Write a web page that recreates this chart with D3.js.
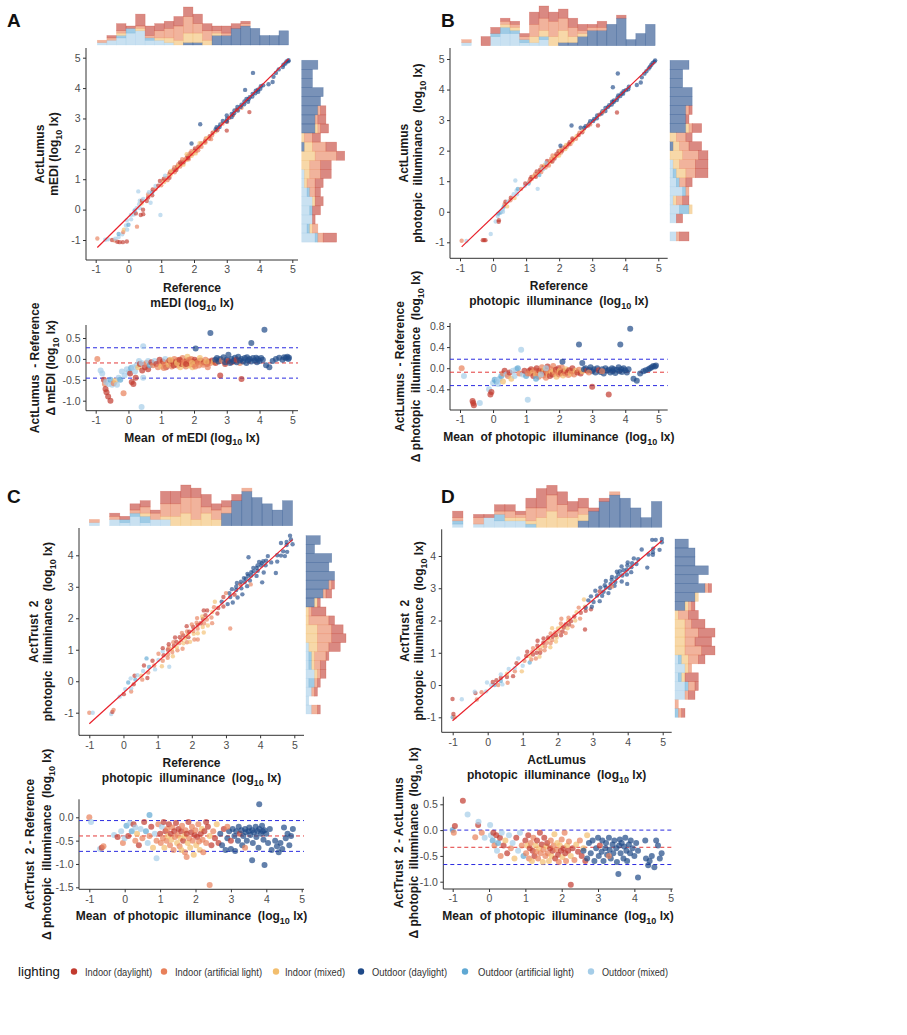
<!DOCTYPE html>
<html><head><meta charset="utf-8">
<script src="https://cdn.jsdelivr.net/npm/d3@7"></script>
<style>body{margin:0;background:#fff} svg{font-family:Arial,"Liberation Sans",sans-serif} text{white-space:pre}</style>
</head><body><svg id="c" width="907" height="1035"></svg>
<script>
const categories = ["Indoor (daylight)","Indoor (artificial light)","Indoor (mixed)","Outdoor (daylight)","Outdoor (artificial light)","Outdoor (mixed)"];
const colors = ["#C23B2F","#E8805A","#F2BE6E","#1F4A88","#5FA8D3","#A5CDE8"];
const legendTitle = "lighting";

// points: [mean of methods, difference (method - reference), category index]
const pointsA = [
[-0.95,0.0,1],[-0.85,-0.28,5],[-0.8,-0.35,5],[-0.75,-0.5,0],[-0.72,-0.6,1],[-0.7,-0.72,0],[-0.67,-0.8,0],[-0.62,-0.9,0],[-0.55,-1.0,0],[-0.68,-0.55,5],[-0.6,-0.6,5],[-0.55,-0.5,4],[-0.5,-0.62,5],[-0.45,-0.58,1],[-0.4,-0.52,2],[-0.35,-0.62,5],[-0.3,-0.45,5],[-0.25,-0.5,4],[-0.2,-0.3,5],[-0.15,-0.82,1],[-0.12,-0.4,5],[-0.05,-0.25,5],[0.0,-0.32,5],[0.05,-0.35,0],[0.08,-0.22,4],[0.1,-0.55,0],[0.15,-0.6,0],[0.15,-0.2,5],[0.2,-0.3,5],[0.22,-0.45,0],[0.25,-0.15,5],[0.3,-0.2,2],[0.32,-0.05,5],[0.35,-0.12,0],[0.4,-0.1,5],[0.42,-0.28,0],[0.45,0.3,5],[0.45,-0.45,5],[0.4,-1.15,5],[0.5,-0.2,0],[0.55,-0.1,1],[0.6,-0.25,0],[0.6,-0.05,5],[0.65,-0.15,4],
[0.7,-0.08,0],[0.75,-0.15,1],[0.8,-0.05,5],[0.85,-0.12,0],[0.9,-0.2,1],[0.95,-0.02,0],[1.0,-0.1,1],[1.0,-0.18,2],[1.05,-0.06,0],[1.1,-0.12,1],[1.12,0.0,5],[1.15,-0.2,0],[1.2,-0.08,1],[1.22,-0.14,2],[1.25,-0.04,0],[1.3,-0.1,1],[1.32,-0.18,1],[1.35,-0.06,0],[1.4,0.0,1],[1.42,-0.12,2],[1.45,-0.08,0],[1.5,-0.16,1],[1.5,-0.03,1],[1.55,-0.1,0],[1.58,-0.2,2],[1.6,-0.05,1],[1.62,-0.12,0],[1.65,0.02,1],[1.7,-0.14,2],[1.72,-0.08,1],[1.75,-0.18,1],[1.78,-0.04,0],[1.8,0.05,2],[1.82,-0.1,1],[1.85,-0.16,2],[1.88,-0.06,0],[1.9,-0.12,1],[1.92,0.0,1],[1.95,-0.2,2],[1.98,-0.08,0],[2.0,-0.14,1],[2.02,-0.02,0],[2.05,0.25,3],[2.08,-0.1,2],[2.1,-0.06,0],[2.15,-0.16,1],[2.2,-0.04,0],[2.25,-0.1,2],[2.3,-0.08,0],[2.35,-0.02,1],[2.4,-0.12,0],[2.45,-0.06,0],[2.5,0.62,3],[2.5,-0.1,1],[2.55,-0.04,0],[2.6,-0.08,2],
[1.08,-0.22,1],[1.28,-0.02,2],[1.38,-0.16,0],[1.48,-0.1,2],[1.56,-0.02,0],[1.68,-0.08,1],[1.76,-0.12,0],[1.86,-0.02,1],[1.94,-0.1,2],[2.04,-0.18,1],[2.12,-0.08,1],[2.18,0.02,2],[2.28,-0.14,1],[2.38,-0.06,2],[2.42,-0.2,1],[2.66,-0.1,0],[2.7,-0.05,1],[2.95,-0.12,0],[3.15,-0.08,0],[3.4,-0.1,1],
[2.65,-0.02,3],[2.7,0.02,3],[2.75,-0.06,3],[2.8,-0.4,0],[2.8,0.0,3],[2.85,-0.04,1],[2.9,0.04,3],[2.95,-0.08,3],[3.0,-0.02,3],[3.05,0.1,3],[3.05,-0.05,0],[3.1,-0.1,3],[3.15,0.0,3],[3.2,-0.05,3],[3.25,0.03,3],[3.3,-0.08,3],[3.3,-0.02,0],[3.35,0.05,3],[3.4,-0.04,3],[3.45,-0.48,0],[3.45,0.0,3],[3.5,-0.06,3],[3.55,0.02,3],[3.6,-0.1,3],[3.62,0.04,3],[3.65,-0.03,3],[3.7,0.0,3],[3.75,0.38,3],[3.75,-0.06,3],[3.8,0.02,3],[3.85,-0.04,3],[3.9,0.03,3],[3.92,-0.08,3],[3.95,0.0,3],[4.0,-0.05,3],[4.05,0.02,3],[4.1,-0.02,3],[4.15,0.7,3],[4.2,-0.15,3],[4.3,-0.2,3],[4.4,-0.05,3],[4.5,0.0,3],[4.6,0.03,3],[4.7,-0.02,3],[4.75,0.04,3],[4.8,0.02,3],[4.85,0.05,3],[4.88,0.0,3],[4.9,0.03,3]
];
const pointsB = [
[-0.95,0.0,1],[-0.88,-0.15,5],[-0.62,-0.62,0],[-0.6,-0.66,0],[-0.58,-0.7,0],[-0.4,-0.66,5],[-0.12,-0.4,5],[-0.05,-0.45,0],[-0.08,-0.5,0],[0.0,-0.28,5],[0.05,-0.22,4],[0.1,-0.25,4],[0.15,-0.22,5],[0.2,-0.2,5],[0.15,-0.3,5],[0.25,-0.15,4],[0.3,-0.1,1],[0.3,-0.25,2],[0.35,-0.05,0],[0.4,-0.12,5],[0.45,-0.15,1],[0.5,-0.08,0],[0.55,-0.2,2],[0.6,-0.05,5],[0.65,-0.15,5],[0.7,-0.02,5],[0.75,0.0,4],[0.8,-0.1,1],[0.85,0.35,5],[0.9,-0.12,5],[1.0,-0.15,4],[1.05,-0.6,5],[1.1,-0.05,0],
[1.12,-0.1,1],[1.15,-0.02,0],[1.2,-0.08,2],[1.22,-0.15,0],[1.25,-0.04,1],[1.3,-0.12,2],[1.32,0.0,0],[1.35,-0.08,1],[1.38,-0.16,1],[1.4,-0.05,0],[1.45,-0.1,2],[1.48,0.02,1],[1.5,-0.06,0],[1.52,-0.14,1],[1.55,-0.03,2],[1.58,-0.09,0],[1.6,-0.18,1],[1.62,-0.05,1],[1.65,0.03,0],[1.68,-0.11,2],[1.7,-0.07,1],[1.72,-0.15,0],[1.75,-0.02,1],[1.78,-0.08,2],[1.8,-0.12,0],[1.82,0.04,1],[1.85,-0.06,2],[1.88,-0.1,1],[1.9,-0.03,0],[1.92,-0.16,2],[1.95,-0.07,1],[1.98,0.0,0],[2.0,-0.12,1],[2.02,-0.05,2],[2.05,-0.09,0],[2.08,0.02,1],[2.1,0.12,3],[2.12,-0.14,2],[2.15,-0.06,0],[2.18,-0.1,1],[2.2,-0.02,2],[2.25,-0.08,0],[2.28,-0.13,1],[2.3,-0.04,0],[2.35,-0.1,2],[2.38,-0.06,1],[2.4,0.0,0],[2.45,-0.12,1],[2.5,-0.05,2],[2.55,-0.08,0],[2.6,0.45,3],[2.6,-0.03,1],[2.65,-0.1,0],[2.7,0.1,3],[2.7,-0.06,2],[1.3,-0.2,4],[1.45,-0.12,5],[1.6,0.0,5],[0.95,-0.05,0],[1.05,-0.1,1],
[2.75,-0.02,3],[2.8,0.0,3],[2.85,-0.05,0],[2.9,-0.03,3],[2.95,0.02,3],[3.0,-0.35,0],[3.0,-0.06,3],[3.05,-0.02,3],[3.1,-0.08,3],[3.15,0.0,3],[3.2,-0.04,0],[3.25,-0.07,3],[3.3,-0.02,3],[3.35,-0.1,3],[3.4,0.0,3],[3.45,-0.05,3],[3.5,-0.5,0],[3.5,-0.03,3],[3.55,-0.08,3],[3.6,0.0,3],[3.62,-0.06,3],[3.65,-0.02,3],[3.7,-0.09,3],[3.75,-0.03,3],[3.8,0.02,3],[3.82,-0.06,3],[3.85,0.45,3],[3.88,-0.02,3],[3.9,-0.07,3],[3.95,0.0,3],[4.0,-0.04,3],[4.05,-0.08,3],[4.1,-0.02,3],[4.15,0.75,3],[4.25,-0.2,3],[4.35,-0.24,3],[4.45,-0.1,3],[4.55,-0.06,3],[4.62,-0.04,3],[4.7,-0.02,3],[4.75,0.0,3],[4.8,0.02,3],[4.85,0.04,3],[4.9,0.03,3],[4.93,0.05,3],[3.3,-0.06,1],[2.9,-0.08,1]
];
const pointsC = [
[-1.0,0.0,1],[-0.95,-0.1,5],[-0.7,-0.68,5],[-0.65,-0.65,0],[-0.6,-0.62,1],[-0.3,-0.38,5],[-0.2,-0.42,0],[-0.1,-0.3,5],[-0.05,-0.55,1],[0.0,-0.45,5],[0.05,-0.18,4],[0.1,-0.4,0],[0.15,-0.12,5],[0.2,-0.3,4],[0.25,-0.15,0],[0.3,-0.5,1],[0.3,-0.22,5],[0.35,-0.35,2],[0.4,-0.6,0],[0.45,-0.25,5],[0.5,-0.45,1],[0.55,-0.1,0],[0.6,-0.3,4],[0.65,-0.55,5],[0.7,0.05,4],[0.7,-0.4,1],[0.75,-0.2,0],[0.8,-0.65,2],[0.85,-0.35,5],[0.9,-0.88,5],[0.9,-0.5,1],[0.95,-0.15,1],
[1.0,-0.35,0],[1.02,-0.55,1],[1.05,-0.2,5],[1.08,-0.45,1],[1.1,-0.1,0],[1.12,-0.65,2],[1.15,-0.3,0],[1.18,-0.5,1],[1.2,-0.25,1],[1.22,-0.4,2],[1.25,-0.15,0],[1.28,-0.6,1],[1.3,-0.35,0],[1.32,-0.48,2],[1.35,-0.22,1],[1.38,-0.7,1],[1.4,-0.3,0],[1.42,-0.42,1],[1.45,-0.12,0],[1.48,-0.55,2],[1.5,-0.38,1],[1.52,-0.25,0],[1.55,-0.62,1],[1.58,-0.45,2],[1.6,-0.3,0],[1.62,-0.18,1],[1.65,-0.5,0],[1.68,-0.4,2],[1.7,-0.75,1],[1.72,-0.28,1],[1.75,-0.35,0],[1.78,-0.55,2],[1.8,-0.1,0],[1.82,-0.45,1],[1.85,-0.65,2],[1.88,-0.32,0],[1.9,-0.2,1],[1.92,-0.5,1],[1.95,-0.8,2],[1.98,-0.38,0],[2.0,-0.28,1],[2.02,-0.6,2],[2.05,-0.42,0],[2.08,-0.15,1],[2.1,-0.52,1],[2.12,-0.7,2],[2.15,-0.35,0],[2.18,-0.25,2],[2.2,-0.48,1],[2.22,-0.75,1],[2.25,-0.3,0],[2.3,-0.55,1],[2.35,-0.2,0],[2.4,-1.45,1],[2.4,-0.4,2],[2.45,-0.6,0],[2.5,-0.3,1],[2.55,-0.45,0],[2.6,-0.15,2],[2.65,-0.55,0],[1.75,-0.85,1],[1.6,-0.7,2],[2.3,-0.1,0],
[2.7,-0.35,3],[2.75,-0.6,3],[2.8,-0.25,0],[2.85,-0.7,3],[2.9,-0.45,3],[2.95,-0.3,3],[3.0,-0.68,3],[3.0,-0.5,0],[3.05,-0.25,3],[3.1,-0.4,3],[3.12,-0.72,3],[3.15,-0.3,3],[3.2,-0.5,3],[3.22,-0.2,3],[3.25,-0.35,0],[3.3,-0.28,3],[3.32,-0.6,3],[3.35,-0.4,3],[3.4,-0.25,3],[3.42,-0.32,3],[3.45,-0.5,3],[3.5,-0.3,3],[3.52,-0.22,3],[3.55,-0.38,3],[3.6,-0.92,3],[3.6,-0.28,3],[3.62,-0.55,3],[3.65,-0.32,3],[3.7,-0.2,3],[3.72,-0.42,3],[3.75,-0.3,3],[3.78,-0.65,3],[3.8,0.28,3],[3.8,-0.25,3],[3.85,-0.35,3],[3.88,-0.18,3],[3.9,-0.3,3],[3.92,-0.48,3],[3.95,-1.02,3],[3.95,-0.28,3],[4.0,-0.35,3],[4.05,-0.55,3],[4.1,-0.25,3],[4.15,-0.7,3],[4.25,-0.5,3],[4.3,-0.62,3],[4.35,-0.75,3],[4.4,-0.55,3],[4.45,-0.68,3],[4.5,-0.22,3],[4.55,-0.45,3],[4.6,-0.35,3],[4.65,-0.6,3],[4.7,-0.4,3],[4.75,-0.25,3],[3.4,-0.65,1],[2.9,-0.2,1]
];
const pointsD = [
[-1.0,0.0,4],[-0.97,-0.05,1],[-0.94,0.08,0],[-0.72,0.57,0],[-0.59,0.3,5],[-0.3,0.1,0],[-0.29,0.16,5],[-0.2,-0.05,1],[-0.38,-0.14,1],[-0.12,-0.15,5],[0.03,0.1,5],[0.05,-0.1,5],[0.1,-0.2,4],[0.12,-0.05,0],[0.15,-0.3,1],[0.2,-0.1,0],[0.22,-0.4,5],[0.25,-0.25,4],[0.3,-0.15,0],[0.32,-0.5,1],[0.35,-0.05,5],[0.4,-0.3,0],[0.45,-0.2,2],[0.5,-0.45,0],[0.55,-0.1,5],[0.6,-0.35,1],[0.65,-0.25,5],[0.7,-0.55,2],[0.75,-0.15,0],[0.8,-0.4,5],[0.85,-0.05,5],[0.9,-0.3,1],[0.95,-0.5,4],
[1.0,-0.2,0],[1.02,-0.45,1],[1.05,-0.3,2],[1.08,-0.1,0],[1.1,-0.55,1],[1.12,-0.35,0],[1.15,-0.25,1],[1.18,-0.6,2],[1.2,-0.4,0],[1.22,-0.15,1],[1.25,-0.5,0],[1.28,-0.3,2],[1.3,-0.42,1],[1.32,-0.2,0],[1.35,-0.55,1],[1.38,-0.35,2],[1.4,-0.05,0],[1.42,-0.45,1],[1.45,-0.28,0],[1.48,-0.62,2],[1.5,-0.38,1],[1.52,-0.15,0],[1.55,-0.5,1],[1.58,-0.32,2],[1.6,-0.25,0],[1.62,-0.45,1],[1.65,-0.6,2],[1.68,-0.35,0],[1.7,-0.2,1],[1.72,-0.5,2],[1.75,-0.4,0],[1.78,-0.3,1],[1.8,-0.08,2],[1.82,-0.55,0],[1.85,-0.38,1],[1.88,-0.25,2],[1.9,-0.48,0],[1.92,-0.62,1],[1.95,-0.3,2],[1.98,-0.4,0],[2.0,-0.18,1],[2.02,-0.52,2],[2.05,-0.35,0],[2.08,-0.05,1],[2.1,-0.45,0],[2.12,-0.6,1],[2.15,-0.3,2],[2.18,-0.4,0],[2.2,-0.22,1],[2.25,-1.06,0],[2.25,-0.5,2],[2.3,-0.35,0],[2.35,-0.58,1],[2.4,-0.28,2],[2.45,-0.42,0],[2.5,-0.2,1],[2.55,-0.5,0],[2.6,-0.35,2],[2.7,-0.1,2],[2.65,-0.6,0],
[2.6,-0.4,3],[2.7,-0.55,3],[2.75,-0.25,3],[2.8,-0.45,3],[2.85,-0.2,3],[2.9,-0.6,3],[2.95,-0.35,3],[3.0,-0.15,3],[3.02,-0.5,3],[3.05,-0.3,0],[3.1,-0.42,3],[3.12,-0.2,3],[3.15,-0.6,3],[3.2,-0.35,3],[3.22,-0.25,3],[3.25,-0.48,3],[3.3,-0.15,3],[3.32,-0.38,3],[3.35,-0.55,3],[3.4,-0.28,3],[3.42,-0.45,3],[3.45,-0.2,3],[3.5,-0.35,3],[3.52,-0.62,3],[3.56,-0.85,3],[3.58,-0.3,3],[3.6,-0.18,3],[3.62,-0.45,3],[3.65,-0.25,3],[3.7,-0.55,3],[3.72,-0.32,3],[3.75,-0.15,3],[3.78,-0.4,3],[3.8,-0.6,3],[3.85,-0.28,3],[3.88,-0.45,3],[3.9,-0.2,3],[3.95,-0.35,3],[4.0,-0.5,3],[4.05,-0.25,3],[4.1,-0.92,3],[4.1,-0.4,3],[4.3,-0.2,3],[4.32,-0.55,3],[4.38,-0.68,3],[4.42,-0.6,3],[4.48,-0.5,3],[4.55,-0.72,3],[4.6,-0.2,3],[4.65,-0.3,3],[4.7,-0.55,3],[4.75,-0.45,3],[3.3,-0.5,1]
];

// regression fit [intercept, slope], bias lines [upper LoA, mean, lower LoA]
const fitA = [-0.236, 1.064], fitB = [-0.166, 1.034], fitC = [-0.367, 0.983], fitD = [-0.167, 0.933];
const biasA = [0.266, -0.097, -0.46], biasB = [0.17, -0.076, -0.33], biasC = [-0.07, -0.40, -0.73], biasD = [0.0, -0.333, -0.667];
const xTicks = [-1,0,1,2,3,4,5];
const yTicksAB = [-1,0,1,2,3,4,5], yTicksCD = [-1,0,1,2,3,4];
const baTicksA = [0.5,0,-0.5,-1], baTicksB = [0.8,0.4,0,-0.4], baTicksC = [0,-0.5,-1,-1.5], baTicksD = [0.5,0,-0.5,-1];

const svg = d3.select("#c");

function rich(sel, s, fs){
  const parts = s.split(/[{}]/);
  let inSub = false;
  parts.forEach((p,i)=>{
    const sub = i%2===1;
    if(p){
      const t = sel.append("tspan").text(p);
      if(sub){ t.attr("font-size", fs*0.75).attr("dy", fs*0.3); inSub=true; }
      else if(inSub){ t.attr("dy", -fs*0.3); inSub=false; }
    }
  });
}
function title(x, y, s, rot){
  const t = svg.append("text").attr("font-size",12).attr("font-weight","bold").attr("fill","#1a1a1a")
    .attr("text-anchor","middle")
    .attr("transform", rot ? `translate(${x},${y}) rotate(-90)` : `translate(${x},${y})`);
  rich(t, s, 12);
}

function axes(xs, ys, L, xt, yt, yfmt){
  const gx = svg.append("g").attr("transform",`translate(0,${L.bot})`)
    .call(d3.axisBottom(xs).tickValues(xt).tickSize(3).tickPadding(3).tickFormat(d=>String(d)));
  const gy = svg.append("g").attr("transform",`translate(${L.left},0)`)
    .call(d3.axisLeft(ys).tickValues(yt).tickSize(3).tickPadding(2.5).tickFormat(yfmt));
  [gx,gy].forEach(g=>{
    g.select(".domain").remove();
    g.selectAll("line").attr("stroke","#333");
    g.selectAll("text").attr("font-size",10.5).attr("fill","#4d4d4d").attr("font-family","Arial,'Liberation Sans',sans-serif");
  });
  svg.append("line").attr("x1",L.left).attr("x2",L.right).attr("y1",L.bot).attr("y2",L.bot).attr("stroke","#333").attr("stroke-width",1);
  svg.append("line").attr("x1",L.left).attr("x2",L.left).attr("y1",L.top).attr("y2",L.bot).attr("stroke","#333").attr("stroke-width",1);
}

function drawPanel(P){
  const pts = P.points.map(([m,d,c])=>({m,d,c,x:m-d/2,y:m+d/2}));
  const S = P.sc;
  const xs = d3.scaleLinear().domain([-1,5]).range(S.xr);
  const ys = d3.scaleLinear().domain(S.yd).range(S.yr);

  // histograms
  const stackOrder = [5,4,3,2,1,0];
  function hist(acc){
    const ext = d3.extent(pts, acc);
    const th = d3.range(1,20).map(i=>ext[0]+i*(ext[1]-ext[0])/20);
    return d3.bin().value(acc).domain(ext).thresholds(th)(pts);
  }
  const bt = hist(p=>p.x), br = hist(p=>p.y);
  const mt = d3.max(bt,b=>b.length), mr = d3.max(br,b=>b.length);
  const ht = d3.scaleLinear().domain([0,mt]).range([0,P.ht.max]);
  const hr = d3.scaleLinear().domain([0,mr]).range([0,P.hr.max]);
  const gh = svg.append("g");
  bt.forEach(b=>{
    let cum=0;
    stackOrder.forEach(c=>{
      const n = b.filter(p=>p.c===c).length;
      if(!n) return;
      gh.append("rect").attr("x",xs(b.x0)).attr("width",xs(b.x1)-xs(b.x0))
        .attr("y",P.ht.base-ht(cum+n)).attr("height",ht(n))
        .attr("fill",colors[c]).attr("fill-opacity",0.6).attr("stroke",colors[c]).attr("stroke-opacity",0.35).attr("stroke-width",0.6);
      cum+=n;
    });
  });
  br.forEach(b=>{
    let cum=0;
    stackOrder.forEach(c=>{
      const n = b.filter(p=>p.c===c).length;
      if(!n) return;
      gh.append("rect").attr("y",ys(b.x1)).attr("height",ys(b.x0)-ys(b.x1))
        .attr("x",P.hr.base+hr(cum)).attr("width",hr(n))
        .attr("fill",colors[c]).attr("fill-opacity",0.6).attr("stroke",colors[c]).attr("stroke-opacity",0.35).attr("stroke-width",0.6);
      cum+=n;
    });
  });

  // scatter
  axes(xs, ys, S, xTicks, P.yt, d=>String(d));
  svg.append("g").selectAll("circle").data(pts).join("circle")
    .attr("cx",p=>xs(p.x)).attr("cy",p=>ys(p.y)).attr("r",2.2)
    .attr("fill",p=>colors[p.c]).attr("fill-opacity",0.65);
  const xe = d3.extent(pts,p=>p.x);
  svg.append("line").attr("x1",xs(xe[0])).attr("x2",xs(xe[1]))
    .attr("y1",ys(P.fit[0]+P.fit[1]*xe[0])).attr("y2",ys(P.fit[0]+P.fit[1]*xe[1]))
    .attr("stroke","#E8202A").attr("stroke-width",1.2);

  // Bland-Altman
  const B = P.ba;
  const bx = d3.scaleLinear().domain([-1,5]).range(B.xr);
  const by = d3.scaleLinear().domain(B.yd).range(B.yr);
  axes(bx, by, B, xTicks, P.bt, d=>d.toFixed(1));
  P.bias.forEach((v,i)=>{
    svg.append("line").attr("x1",B.left).attr("x2",B.right).attr("y1",by(v)).attr("y2",by(v))
      .attr("stroke", i===1 ? "#E33A3A" : "#2B2BE0").attr("stroke-width",1).attr("stroke-dasharray","4,3");
  });
  svg.append("g").selectAll("circle").data(pts).join("circle")
    .attr("cx",p=>bx(p.m)).attr("cy",p=>by(p.d)).attr("r",3)
    .attr("fill",p=>colors[p.c]).attr("fill-opacity",0.7);

  // titles
  const cx = (S.left+S.right)/2, cy=(S.top+S.bot)/2;
  title(cx, S.bot+32, P.xt1); title(cx, S.bot+47, P.xt2);
  title(P.yx[0], cy, P.yt1, true); title(P.yx[1], cy, P.yt2, true);
  const bcx = (B.left+B.right)/2, bcy=(B.top+B.bot)/2;
  title(bcx, B.bot+31, P.bxt);
  title(P.byx[0], bcy, P.byt1, true); title(P.byx[1], bcy, P.byt2, true);
  svg.append("text").attr("x",P.lab[0]).attr("y",P.lab[1]).attr("font-size",19).attr("font-weight","bold").attr("fill","#111").text(P.id);
}

const phot = "photopic  illuminance  (log{10} lx)";
const panels = [
 {id:"A", lab:[7,27], points:pointsA, fit:fitA, bias:biasA, yt:yTicksAB, bt:baTicksA,
  sc:{left:86,right:298,top:48,bot:260,xr:[95.7,292.3],yd:[5,-1],yr:[57.7,240]},
  ht:{base:45,max:38}, hr:{base:301.7,max:43},
  ba:{left:86,right:298,top:325,bot:410.7,xr:[95.7,292.3],yd:[0.5,-1],yr:[338,400.7]},
  xt1:"Reference", xt2:"mEDI (log{10} lx)", yt1:"ActLumus", yt2:"mEDI (log{10} lx)", yx:[44,58],
  bxt:"Mean  of mEDI (log{10} lx)", byt1:"ActLumus  - Reference", byt2:"Δ mEDI (log{10} lx)", byx:[39,55]},
 {id:"B", lab:[441,27], points:pointsB, fit:fitB, bias:biasB, yt:yTicksAB, bt:baTicksB,
  sc:{left:450,right:667.7,top:48,bot:258.3,xr:[460,658.3],yd:[5,-1],yr:[59,242.3]},
  ht:{base:45.7,max:39.7}, hr:{base:670,max:38},
  ba:{left:450,right:667.7,top:323,bot:410,xr:[460,658.3],yd:[0.8,-0.4],yr:[326,389.3]},
  xt1:"Reference", xt2:phot, yt1:"ActLumus", yt2:phot, yx:[408,422],
  bxt:"Mean  of "+phot, byt1:"ActLumus  - Reference", byt2:"Δ "+phot, byx:[404,420]},
 {id:"C", lab:[7,503], points:pointsC, fit:fitC, bias:biasC, yt:yTicksCD, bt:baTicksC,
  sc:{left:79,right:304,top:528,bot:735.3,xr:[89.3,294.3],yd:[4,-1],yr:[555.3,712.7]},
  ht:{base:525.7,max:40.7}, hr:{base:306,max:40},
  ba:{left:79,right:304,top:799.3,bot:889.3,xr:[89.3,301.7],yd:[0,-1.5],yr:[817.3,887.3]},
  xt1:"Reference", xt2:phot, yt1:"ActTrust  2", yt2:phot, yx:[38,52],
  bxt:"Mean  of "+phot, byt1:"ActTrust  2 - Reference", byt2:"Δ "+phot, byx:[34,51]},
 {id:"D", lab:[441,503], points:pointsD, fit:fitD, bias:biasD, yt:yTicksCD, bt:baTicksD,
  sc:{left:441.7,right:671.7,top:529.3,bot:732.3,xr:[452.7,662.7],yd:[4,-1],yr:[556,717.3]},
  ht:{base:527.3,max:42}, hr:{base:675,max:40},
  ba:{left:443.3,right:672.7,top:796.7,bot:889,xr:[452.7,670.7],yd:[0.5,-1],yr:[804.3,881.7]},
  xt1:"ActLumus", xt2:phot, yt1:"ActTrust  2", yt2:phot, yx:[409,423],
  bxt:"Mean  of "+phot, byt1:"ActTrust  2 - ActLumus", byt2:"Δ "+phot, byx:[403,418]}
];
panels.forEach(drawPanel);

// legend
const legDot = [74,164,276,361,465,591], legTx = [85,175,285,372,478,602], legW = [67,87,60,75,96,66];
const lg = svg.append("g");
lg.append("text").attr("x",18).attr("y",976).attr("font-size",13).attr("fill","#111")
  .attr("textLength",42).attr("lengthAdjust","spacingAndGlyphs").text(legendTitle);
categories.forEach((c,i)=>{
  lg.append("circle").attr("cx",legDot[i]).attr("cy",971.5).attr("r",3.2).attr("fill",colors[i]);
  lg.append("text").attr("x",legTx[i]).attr("y",975.5).attr("font-size",11).attr("fill","#333")
    .attr("textLength",legW[i]).attr("lengthAdjust","spacingAndGlyphs").text(c);
});
</script></body></html>
